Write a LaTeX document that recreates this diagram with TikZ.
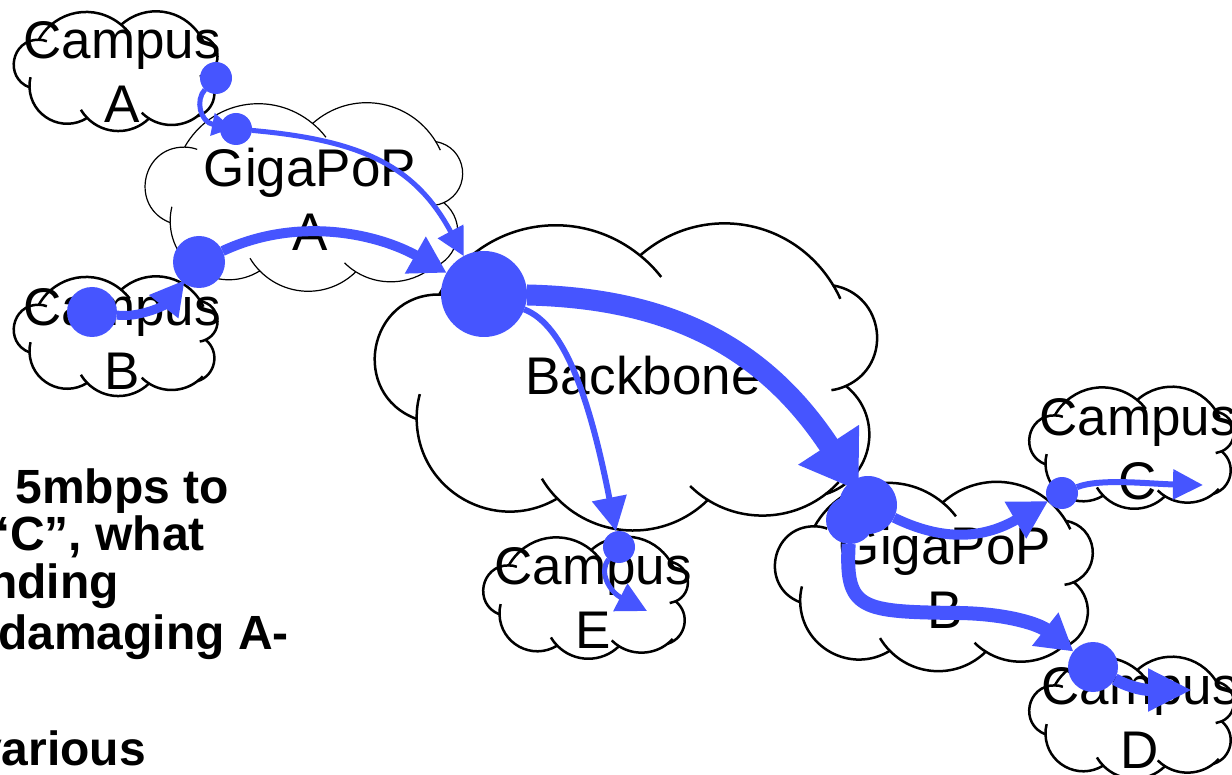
\documentclass[tikz,border=0pt]{standalone}
\usepackage{fontspec}
\setmainfont{Liberation Sans}
\usetikzlibrary{arrows.meta,calc}
\definecolor{flowblue}{RGB}{70,85,255}
\pgfdeclarelayer{cloudlayer}
\pgfdeclarelayer{labellayer}
\pgfdeclarelayer{connlayer}
\pgfsetlayers{cloudlayer,labellayer,connlayer,main}
% short inner arc: continuation of the bump arriving at junction #2 from #1
\newcommand\cinner[5]{%
  \draw[cloudline,#5,fill=none] let \p1=(#1), \p2=(#2),
     \n1={atan2(\y2-\y1,\x2-\x1)},
     \n2={veclen(\x2-\x1,\y2-\y1)/(2*sin(#3))},
     \n3={(#4)/\n2*57.3} in
     (#2) to[out={\n1-#3}, in={\n1-#3-\n3+180}, looseness=0.9]
     ($(#2)+({\n1-#3-\n3/2}:{(#4)*1pt})$);}
% short inner arc: backward continuation of the bump leaving junction #1 towards #2
\newcommand\cinnerback[5]{%
  \draw[cloudline,#5,fill=none] let \p1=(#1), \p2=(#2),
     \n1={atan2(\y2-\y1,\x2-\x1)},
     \n2={veclen(\x2-\x1,\y2-\y1)/(2*sin(#3))},
     \n3={(#4)/\n2*57.3} in
     (#1) to[out={\n1+#3+180}, in={\n1+#3+\n3}, looseness=0.9]
     ($(#1)+({\n1+#3+180+\n3/2}:{(#4)*1pt})$);}
\newcommand\cloudshape[5]{%
  \coordinate (k0) at ({#1+0.085*#3},{#2+0.63*#4});
  \coordinate (k1) at ({#1+0.13*#3},{#2+0.215*#4});
  \coordinate (k2) at ({#1+0.53*#3},{#2+0.085*#4});
  \coordinate (k3) at ({#1+0.915*#3},{#2+0.185*#4});
  \coordinate (k4) at ({#1+0.94*#3},{#2+0.52*#4});
  \coordinate (k5) at ({#1+0.90*#3},{#2+0.88*#4});
  \coordinate (k6) at ({#1+0.665*#3},{#2+0.90*#4});
  \coordinate (k7) at ({#1+0.365*#3},{#2+0.895*#4});
  \draw[cloudline,#5] (k0)
     to[bend left=80,looseness=1.45] (k1)
     to[bend left=50,looseness=1.05] (k2)
     to[bend left=50,looseness=1.05] (k3)
     to[bend left=73,looseness=1.32] (k4)
     to[bend left=62,looseness=1.16] (k5)
     to[bend left=35,looseness=0.93] (k6)
     to[bend left=45,looseness=1.0] (k7)
     to[bend left=60,looseness=1.14] (k0) -- cycle;
  \cinner{k7}{k0}{60}{0.05*#3}{#5}
  \cinner{k0}{k1}{80}{0.04*#3}{#5}
  \cinner{k1}{k2}{50}{0.06*#3}{#5}
  \cinner{k2}{k3}{50}{0.03*#3}{#5}
  \cinner{k3}{k4}{73}{0.03*#3}{#5}
  \cinnerback{k5}{k6}{35}{0.035*#3}{#5}
  \cinner{k5}{k6}{35}{0.045*#3}{#5}
  \cinner{k6}{k7}{45}{0.05*#3}{#5}}
\begin{document}
\begin{tikzpicture}[x=1pt,y=-1pt,
  cloudline/.style={draw=black,fill=white,line width=2.5pt,line join=round},
  thincloud/.style={line width=1.2pt},
  flowdot/.style={circle,fill=flowblue,draw=none,inner sep=0pt,outer sep=0pt},
  cloudlabel/.style={font=\fontsize{53}{64}\selectfont,align=center,inner sep=0pt,text=black},
  notetext/.style={font=\bfseries\fontsize{48}{49}\selectfont,inner sep=0pt,anchor=base east,text=black},
  flow/.style={draw=flowblue,line width=#1},
]
\useasboundingbox (0,0) rectangle (1232,775);

% ---- dots (front) ----
\node[flowdot,minimum size=32pt] (dA)  at (216,78)  {};
\node[flowdot,minimum size=32pt] (gA1) at (236,129) {};
\node[flowdot,minimum size=50pt] (dB)  at (92,312)  {};
\node[flowdot,minimum size=52pt] (gA2) at (199,262) {};
\node[flowdot,minimum size=86pt] (bb)  at (484,294) {};
\node[flowdot,minimum size=32pt] (dE)  at (619,547) {};
\node[flowdot,minimum size=58pt] (gB1) at (868,505) {};
\node[flowdot,minimum size=48pt] (gB2) at (850,520) {};
\node[flowdot,minimum size=32pt] (dC)  at (1062,493) {};
\node[flowdot,minimum size=50pt] (dD)  at (1093,667) {};
\coordinate (eE) at (647,611);
\coordinate (eC) at (1203,485);
\coordinate (eD) at (1192,690);

% ---- clouds ----
\begin{pgfonlayer}{cloudlayer}
\cloudshape{374}{230}{502}{300}{}
\cloudshape{143}{108}{320}{182}{thincloud}
\cloudshape{773}{487}{320}{183}{}
\cloudshape{12}{15}{206}{115}{}
\cloudshape{12}{280}{206}{115}{}
\cloudshape{1028}{390}{206}{118}{}
\cloudshape{1028}{660}{206}{118}{}
\cloudshape{482}{540}{206}{118}{}
\end{pgfonlayer}

% ---- labels ----
\begin{pgfonlayer}{labellayer}
\node[cloudlabel] (lA)  at (122,72)  {Campus\\A};
\node[cloudlabel] (lB)  at (122,339) {Campus\\B};
\node[cloudlabel] (lGA) at (310,199) {GigaPoP\\A};
\node[cloudlabel] (lBB) at (643,376) {Backbone};
\node[cloudlabel] (lE)  at (593,598) {Campus\\E};
\node[cloudlabel] (lGB) at (945,577) {GigaPoP\\B};
\node[cloudlabel] (lC)  at (1138,449) {Campus\\C};
\node[cloudlabel] (lD)  at (1140,718) {Campus\\D};
\node[notetext] (t1) at (229,503) {5mbps to};
\node[notetext] (t2) at (205,550) {“C”, what};
\node[notetext] (t3) at (119,598) {nding};
\node[notetext] (t4) at (289,649) {damaging A-};
\node[notetext] (t5) at (146,765) {various};
\end{pgfonlayer}

% ---- connectors ----
\begin{pgfonlayer}{connlayer}
\draw[flow=5pt,-{Triangle[length=20pt,width=22pt]},shorten >=-12pt]
  (dA) .. controls (195,100) and (200,122) .. (gA1);
\draw[flow=5pt,-{Triangle[length=28pt,width=28pt]}]
  (gA1) .. controls (360,140) and (415,165) .. (bb);
\draw[flow=9pt,-{Triangle[length=34pt,width=35pt]},shorten >=-3pt]
  (dB) .. controls (140,318) and (165,305) .. (gA2);
\draw[flow=10pt,-{Triangle[length=36pt,width=40pt]}]
  (gA2) .. controls (300,215) and (380,235) .. (bb);
\draw[flow=21pt,-{Triangle[length=55pt,width=69pt]},shorten >=-12pt]
  (bb) .. controls (660,298) and (760,340) .. (gB1);
\draw[flow=6pt,-{Triangle[length=34pt,width=34pt]}]
  (bb) .. controls (565,325) and (590,400) .. (dE);
\draw[flow=5pt,-{Triangle[length=30pt,width=30pt]}]
  (dE) .. controls (598,572) and (610,592) .. (eE);
\draw[flow=10pt,-{Triangle[length=38pt,width=40pt]}]
  (gB1) .. controls (950,545) and (990,535) .. (dC);
\draw[flow=6pt,-{Triangle[length=30pt,width=29pt]}]
  (dC) .. controls (1100,478) and (1150,484) .. (eC);
\draw[flow=14pt,-{Triangle[length=36pt,width=40pt]}]
  (gB2) .. controls (845,610) and (860,612) .. (960,613)
        .. controls (1010,614) and (1040,625) .. (dD);
\draw[flow=12pt,-{Triangle[length=44pt,width=40pt]}]
  (dD) .. controls (1125,685) and (1140,690) .. (eD);
\end{pgfonlayer}
\end{tikzpicture}
\end{document}
